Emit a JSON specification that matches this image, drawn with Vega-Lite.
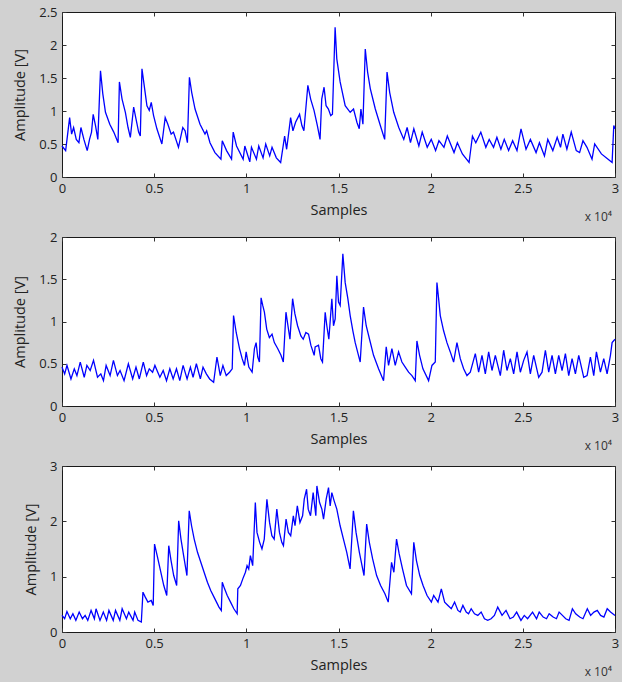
{
  "$schema": "https://vega.github.io/schema/vega-lite/v6.json",
  "background": "#d1d1d1",
  "padding": {"left": 12, "top": 5, "right": 2, "bottom": 6},
  "spacing": 60,
  "bounds": "flush",
  "config": {
    "view": {"fill": "white", "stroke": "#1a1a1a", "strokeWidth": 1},
    "axis": {"domain": false, "grid": false, "tickSize": -4, "tickColor": "#333333", "labelPadding": 9, "labelFont": "Open Sans", "labelFontSize": 13, "labelColor": "#222222", "titleFont": "Open Sans", "titleFontSize": 14.5, "titleFontWeight": "normal", "titleColor": "#222222", "labelFlush": false, "labelOverlap": false},
    "axisX": {"titlePadding": 8},
    "axisY": {"titlePadding": 11},
    "title": {"font": "Open Sans", "fontSize": 12, "fontWeight": "normal", "color": "#333333"}
  },
  "datasets": {
    "p1": [
      {"sample":0,"amplitude":0.47},{"sample":198,"amplitude":0.40},{"sample":414,"amplitude":0.90},{"sample":522,"amplitude":0.65},{"sample":630,"amplitude":0.75},{"sample":774,"amplitude":0.57},{"sample":918,"amplitude":0.52},{"sample":1026,"amplitude":0.75},{"sample":1188,"amplitude":0.57},{"sample":1368,"amplitude":0.40},{"sample":1494,"amplitude":0.57},{"sample":1602,"amplitude":0.68},{"sample":1692,"amplitude":0.95},{"sample":1818,"amplitude":0.78},{"sample":1944,"amplitude":0.57},{"sample":2088,"amplitude":1.61},{"sample":2214,"amplitude":1.26},{"sample":2358,"amplitude":0.98},{"sample":2592,"amplitude":0.80},{"sample":2808,"amplitude":0.68},{"sample":3042,"amplitude":0.52},{"sample":3114,"amplitude":1.44},{"sample":3258,"amplitude":1.18},{"sample":3438,"amplitude":0.98},{"sample":3582,"amplitude":0.75},{"sample":3708,"amplitude":0.60},{"sample":3888,"amplitude":1.06},{"sample":4014,"amplitude":0.88},{"sample":4158,"amplitude":0.68},{"sample":4248,"amplitude":0.62},{"sample":4338,"amplitude":1.64},{"sample":4482,"amplitude":1.34},{"sample":4608,"amplitude":1.08},{"sample":4734,"amplitude":1.01},{"sample":4842,"amplitude":1.13},{"sample":4968,"amplitude":0.93},{"sample":5148,"amplitude":0.73},{"sample":5418,"amplitude":0.50},{"sample":5598,"amplitude":0.90},{"sample":5742,"amplitude":0.80},{"sample":5922,"amplitude":0.65},{"sample":6048,"amplitude":0.68},{"sample":6318,"amplitude":0.45},{"sample":6552,"amplitude":0.75},{"sample":6678,"amplitude":0.70},{"sample":6804,"amplitude":0.52},{"sample":6912,"amplitude":1.51},{"sample":7038,"amplitude":1.28},{"sample":7218,"amplitude":1.03},{"sample":7488,"amplitude":0.80},{"sample":7758,"amplitude":0.65},{"sample":7848,"amplitude":0.70},{"sample":8028,"amplitude":0.52},{"sample":8298,"amplitude":0.37},{"sample":8622,"amplitude":0.27},{"sample":8694,"amplitude":0.55},{"sample":8928,"amplitude":0.40},{"sample":9198,"amplitude":0.27},{"sample":9288,"amplitude":0.68},{"sample":9468,"amplitude":0.47},{"sample":9828,"amplitude":0.27},{"sample":9918,"amplitude":0.47},{"sample":10188,"amplitude":0.23},{"sample":10278,"amplitude":0.45},{"sample":10548,"amplitude":0.27},{"sample":10674,"amplitude":0.47},{"sample":10908,"amplitude":0.29},{"sample":11052,"amplitude":0.50},{"sample":11268,"amplitude":0.32},{"sample":11394,"amplitude":0.45},{"sample":11628,"amplitude":0.29},{"sample":11862,"amplitude":0.22},{"sample":12078,"amplitude":0.62},{"sample":12186,"amplitude":0.42},{"sample":12402,"amplitude":0.90},{"sample":12528,"amplitude":0.70},{"sample":12672,"amplitude":0.83},{"sample":12798,"amplitude":0.90},{"sample":12888,"amplitude":0.95},{"sample":13014,"amplitude":0.78},{"sample":13122,"amplitude":0.70},{"sample":13338,"amplitude":1.39},{"sample":13490,"amplitude":1.18},{"sample":13672,"amplitude":1.01},{"sample":13853,"amplitude":0.78},{"sample":13999,"amplitude":0.57},{"sample":14090,"amplitude":1.18},{"sample":14217,"amplitude":1.36},{"sample":14326,"amplitude":1.08},{"sample":14453,"amplitude":1.03},{"sample":14580,"amplitude":0.93},{"sample":14671,"amplitude":0.95},{"sample":14816,"amplitude":2.27},{"sample":14907,"amplitude":1.79},{"sample":15089,"amplitude":1.44},{"sample":15362,"amplitude":1.08},{"sample":15634,"amplitude":0.98},{"sample":15816,"amplitude":1.03},{"sample":15998,"amplitude":0.83},{"sample":16125,"amplitude":0.73},{"sample":16216,"amplitude":1.03},{"sample":16325,"amplitude":0.80},{"sample":16452,"amplitude":1.94},{"sample":16579,"amplitude":1.59},{"sample":16724,"amplitude":1.34},{"sample":16997,"amplitude":1.03},{"sample":17269,"amplitude":0.78},{"sample":17505,"amplitude":0.57},{"sample":17633,"amplitude":1.59},{"sample":17778,"amplitude":1.28},{"sample":17996,"amplitude":0.98},{"sample":18269,"amplitude":0.75},{"sample":18541,"amplitude":0.57},{"sample":18723,"amplitude":0.75},{"sample":18905,"amplitude":0.52},{"sample":19086,"amplitude":0.73},{"sample":19359,"amplitude":0.47},{"sample":19541,"amplitude":0.68},{"sample":19813,"amplitude":0.45},{"sample":20031,"amplitude":0.57},{"sample":20267,"amplitude":0.40},{"sample":20449,"amplitude":0.55},{"sample":20721,"amplitude":0.45},{"sample":20903,"amplitude":0.62},{"sample":21267,"amplitude":0.37},{"sample":21449,"amplitude":0.52},{"sample":21721,"amplitude":0.35},{"sample":22084,"amplitude":0.22},{"sample":22266,"amplitude":0.62},{"sample":22448,"amplitude":0.52},{"sample":22720,"amplitude":0.68},{"sample":22993,"amplitude":0.45},{"sample":23175,"amplitude":0.57},{"sample":23411,"amplitude":0.45},{"sample":23593,"amplitude":0.60},{"sample":23811,"amplitude":0.42},{"sample":23992,"amplitude":0.57},{"sample":24228,"amplitude":0.40},{"sample":24447,"amplitude":0.55},{"sample":24683,"amplitude":0.40},{"sample":24901,"amplitude":0.73},{"sample":25173,"amplitude":0.42},{"sample":25410,"amplitude":0.57},{"sample":25718,"amplitude":0.37},{"sample":25900,"amplitude":0.52},{"sample":26173,"amplitude":0.32},{"sample":26354,"amplitude":0.57},{"sample":26627,"amplitude":0.40},{"sample":26863,"amplitude":0.60},{"sample":27045,"amplitude":0.45},{"sample":27172,"amplitude":0.65},{"sample":27390,"amplitude":0.42},{"sample":27626,"amplitude":0.68},{"sample":27899,"amplitude":0.40},{"sample":28080,"amplitude":0.37},{"sample":28262,"amplitude":0.55},{"sample":28480,"amplitude":0.45},{"sample":28753,"amplitude":0.27},{"sample":28898,"amplitude":0.50},{"sample":29262,"amplitude":0.35},{"sample":29625,"amplitude":0.27},{"sample":29843,"amplitude":0.22},{"sample":29934,"amplitude":0.78},{"sample":30000,"amplitude":0.73}
    ],
    "p2": [
      {"sample":0,"amplitude":0.46},{"sample":144,"amplitude":0.38},{"sample":270,"amplitude":0.48},{"sample":486,"amplitude":0.32},{"sample":666,"amplitude":0.44},{"sample":810,"amplitude":0.36},{"sample":990,"amplitude":0.52},{"sample":1206,"amplitude":0.34},{"sample":1350,"amplitude":0.48},{"sample":1530,"amplitude":0.42},{"sample":1710,"amplitude":0.54},{"sample":1926,"amplitude":0.34},{"sample":2106,"amplitude":0.38},{"sample":2250,"amplitude":0.30},{"sample":2394,"amplitude":0.48},{"sample":2610,"amplitude":0.36},{"sample":2790,"amplitude":0.54},{"sample":3006,"amplitude":0.36},{"sample":3150,"amplitude":0.42},{"sample":3366,"amplitude":0.30},{"sample":3600,"amplitude":0.50},{"sample":3834,"amplitude":0.32},{"sample":4014,"amplitude":0.46},{"sample":4194,"amplitude":0.32},{"sample":4410,"amplitude":0.52},{"sample":4590,"amplitude":0.36},{"sample":4734,"amplitude":0.44},{"sample":4914,"amplitude":0.40},{"sample":5040,"amplitude":0.48},{"sample":5310,"amplitude":0.34},{"sample":5490,"amplitude":0.42},{"sample":5670,"amplitude":0.30},{"sample":5850,"amplitude":0.44},{"sample":6030,"amplitude":0.32},{"sample":6210,"amplitude":0.44},{"sample":6390,"amplitude":0.30},{"sample":6570,"amplitude":0.48},{"sample":6786,"amplitude":0.32},{"sample":6966,"amplitude":0.46},{"sample":7110,"amplitude":0.34},{"sample":7290,"amplitude":0.50},{"sample":7506,"amplitude":0.32},{"sample":7650,"amplitude":0.46},{"sample":7830,"amplitude":0.38},{"sample":8010,"amplitude":0.32},{"sample":8226,"amplitude":0.28},{"sample":8406,"amplitude":0.58},{"sample":8586,"amplitude":0.36},{"sample":8730,"amplitude":0.48},{"sample":8910,"amplitude":0.36},{"sample":9090,"amplitude":0.40},{"sample":9234,"amplitude":0.44},{"sample":9306,"amplitude":1.07},{"sample":9450,"amplitude":0.87},{"sample":9630,"amplitude":0.68},{"sample":9774,"amplitude":0.56},{"sample":9900,"amplitude":0.48},{"sample":9990,"amplitude":0.64},{"sample":10134,"amplitude":0.46},{"sample":10314,"amplitude":0.40},{"sample":10440,"amplitude":0.68},{"sample":10530,"amplitude":0.75},{"sample":10620,"amplitude":0.58},{"sample":10710,"amplitude":0.52},{"sample":10800,"amplitude":1.28},{"sample":10890,"amplitude":1.19},{"sample":10980,"amplitude":1.11},{"sample":11106,"amplitude":0.91},{"sample":11250,"amplitude":0.81},{"sample":11394,"amplitude":0.85},{"sample":11520,"amplitude":0.75},{"sample":11700,"amplitude":0.68},{"sample":11880,"amplitude":0.60},{"sample":12006,"amplitude":0.52},{"sample":12150,"amplitude":1.11},{"sample":12258,"amplitude":0.95},{"sample":12366,"amplitude":0.79},{"sample":12510,"amplitude":1.27},{"sample":12636,"amplitude":1.09},{"sample":12780,"amplitude":0.95},{"sample":12960,"amplitude":0.83},{"sample":13086,"amplitude":0.79},{"sample":13230,"amplitude":0.87},{"sample":13374,"amplitude":0.85},{"sample":13500,"amplitude":0.72},{"sample":13680,"amplitude":0.60},{"sample":13734,"amplitude":0.70},{"sample":13915,"amplitude":0.72},{"sample":14041,"amplitude":0.56},{"sample":14132,"amplitude":0.52},{"sample":14277,"amplitude":1.11},{"sample":14367,"amplitude":0.95},{"sample":14476,"amplitude":0.79},{"sample":14639,"amplitude":1.27},{"sample":14729,"amplitude":0.95},{"sample":14820,"amplitude":1.03},{"sample":14910,"amplitude":1.54},{"sample":15001,"amplitude":1.23},{"sample":15091,"amplitude":1.19},{"sample":15236,"amplitude":1.80},{"sample":15363,"amplitude":1.46},{"sample":15507,"amplitude":1.27},{"sample":15634,"amplitude":1.07},{"sample":15779,"amplitude":0.89},{"sample":15906,"amplitude":0.75},{"sample":16177,"amplitude":0.52},{"sample":16358,"amplitude":1.17},{"sample":16503,"amplitude":0.95},{"sample":16684,"amplitude":0.79},{"sample":16901,"amplitude":0.60},{"sample":17173,"amplitude":0.44},{"sample":17444,"amplitude":0.30},{"sample":17589,"amplitude":0.70},{"sample":17716,"amplitude":0.48},{"sample":17897,"amplitude":0.68},{"sample":18078,"amplitude":0.48},{"sample":18259,"amplitude":0.64},{"sample":18440,"amplitude":0.52},{"sample":18621,"amplitude":0.46},{"sample":18802,"amplitude":0.40},{"sample":18983,"amplitude":0.36},{"sample":19164,"amplitude":0.30},{"sample":19254,"amplitude":0.77},{"sample":19399,"amplitude":0.60},{"sample":19580,"amplitude":0.44},{"sample":19888,"amplitude":0.30},{"sample":20069,"amplitude":0.48},{"sample":20250,"amplitude":0.52},{"sample":20340,"amplitude":1.46},{"sample":20431,"amplitude":1.27},{"sample":20521,"amplitude":1.07},{"sample":20702,"amplitude":0.89},{"sample":20883,"amplitude":0.75},{"sample":21064,"amplitude":0.64},{"sample":21245,"amplitude":0.52},{"sample":21426,"amplitude":0.75},{"sample":21607,"amplitude":0.56},{"sample":21788,"amplitude":0.44},{"sample":21969,"amplitude":0.36},{"sample":22150,"amplitude":0.40},{"sample":22422,"amplitude":0.62},{"sample":22603,"amplitude":0.40},{"sample":22784,"amplitude":0.60},{"sample":22965,"amplitude":0.38},{"sample":23146,"amplitude":0.64},{"sample":23327,"amplitude":0.42},{"sample":23508,"amplitude":0.60},{"sample":23779,"amplitude":0.36},{"sample":23960,"amplitude":0.66},{"sample":24141,"amplitude":0.42},{"sample":24322,"amplitude":0.56},{"sample":24503,"amplitude":0.38},{"sample":24684,"amplitude":0.64},{"sample":24865,"amplitude":0.40},{"sample":25046,"amplitude":0.54},{"sample":25227,"amplitude":0.64},{"sample":25408,"amplitude":0.38},{"sample":25589,"amplitude":0.60},{"sample":25861,"amplitude":0.34},{"sample":26042,"amplitude":0.40},{"sample":26223,"amplitude":0.66},{"sample":26404,"amplitude":0.40},{"sample":26585,"amplitude":0.60},{"sample":26766,"amplitude":0.38},{"sample":26947,"amplitude":0.60},{"sample":27128,"amplitude":0.42},{"sample":27309,"amplitude":0.62},{"sample":27490,"amplitude":0.36},{"sample":27671,"amplitude":0.56},{"sample":27852,"amplitude":0.38},{"sample":28033,"amplitude":0.60},{"sample":28304,"amplitude":0.34},{"sample":28485,"amplitude":0.36},{"sample":28666,"amplitude":0.58},{"sample":28847,"amplitude":0.36},{"sample":28992,"amplitude":0.64},{"sample":29209,"amplitude":0.40},{"sample":29390,"amplitude":0.56},{"sample":29571,"amplitude":0.38},{"sample":29752,"amplitude":0.60},{"sample":29843,"amplitude":0.75},{"sample":30000,"amplitude":0.79}
    ],
    "p3": [
      {"sample":0,"amplitude":0.30},{"sample":143,"amplitude":0.24},{"sample":268,"amplitude":0.37},{"sample":448,"amplitude":0.24},{"sample":591,"amplitude":0.33},{"sample":752,"amplitude":0.21},{"sample":932,"amplitude":0.36},{"sample":1111,"amplitude":0.24},{"sample":1255,"amplitude":0.30},{"sample":1398,"amplitude":0.21},{"sample":1577,"amplitude":0.39},{"sample":1757,"amplitude":0.24},{"sample":1846,"amplitude":0.42},{"sample":2061,"amplitude":0.21},{"sample":2241,"amplitude":0.36},{"sample":2420,"amplitude":0.21},{"sample":2545,"amplitude":0.39},{"sample":2779,"amplitude":0.21},{"sample":2904,"amplitude":0.39},{"sample":3137,"amplitude":0.21},{"sample":3263,"amplitude":0.42},{"sample":3496,"amplitude":0.24},{"sample":3621,"amplitude":0.36},{"sample":3854,"amplitude":0.21},{"sample":3944,"amplitude":0.36},{"sample":4123,"amplitude":0.21},{"sample":4303,"amplitude":0.18},{"sample":4392,"amplitude":0.72},{"sample":4518,"amplitude":0.63},{"sample":4661,"amplitude":0.54},{"sample":4841,"amplitude":0.57},{"sample":4948,"amplitude":0.48},{"sample":5020,"amplitude":1.59},{"sample":5163,"amplitude":1.38},{"sample":5343,"amplitude":1.11},{"sample":5522,"amplitude":0.84},{"sample":5683,"amplitude":0.66},{"sample":5791,"amplitude":1.56},{"sample":5916,"amplitude":1.29},{"sample":6060,"amplitude":1.02},{"sample":6221,"amplitude":0.84},{"sample":6329,"amplitude":2.01},{"sample":6454,"amplitude":1.68},{"sample":6598,"amplitude":1.38},{"sample":6777,"amplitude":1.02},{"sample":6902,"amplitude":2.19},{"sample":7028,"amplitude":1.92},{"sample":7171,"amplitude":1.68},{"sample":7351,"amplitude":1.44},{"sample":7530,"amplitude":1.26},{"sample":7709,"amplitude":1.08},{"sample":7889,"amplitude":0.90},{"sample":8068,"amplitude":0.75},{"sample":8247,"amplitude":0.63},{"sample":8516,"amplitude":0.45},{"sample":8642,"amplitude":0.39},{"sample":8695,"amplitude":0.90},{"sample":8821,"amplitude":0.78},{"sample":8964,"amplitude":0.66},{"sample":9144,"amplitude":0.54},{"sample":9323,"amplitude":0.42},{"sample":9502,"amplitude":0.33},{"sample":9538,"amplitude":0.78},{"sample":9682,"amplitude":0.84},{"sample":9807,"amplitude":0.96},{"sample":9951,"amplitude":1.08},{"sample":10040,"amplitude":1.20},{"sample":10130,"amplitude":1.14},{"sample":10220,"amplitude":1.38},{"sample":10345,"amplitude":1.20},{"sample":10488,"amplitude":2.34},{"sample":10578,"amplitude":1.80},{"sample":10722,"amplitude":1.62},{"sample":10847,"amplitude":1.50},{"sample":10973,"amplitude":1.68},{"sample":11116,"amplitude":2.40},{"sample":11259,"amplitude":1.98},{"sample":11385,"amplitude":1.74},{"sample":11510,"amplitude":1.68},{"sample":11654,"amplitude":2.22},{"sample":11797,"amplitude":1.80},{"sample":11923,"amplitude":1.62},{"sample":12013,"amplitude":1.56},{"sample":12156,"amplitude":2.04},{"sample":12281,"amplitude":1.80},{"sample":12407,"amplitude":1.74},{"sample":12550,"amplitude":2.10},{"sample":12640,"amplitude":1.92},{"sample":12766,"amplitude":2.28},{"sample":12909,"amplitude":1.98},{"sample":13052,"amplitude":2.10},{"sample":13142,"amplitude":2.40},{"sample":13268,"amplitude":2.58},{"sample":13357,"amplitude":2.22},{"sample":13483,"amplitude":2.10},{"sample":13626,"amplitude":2.52},{"sample":13770,"amplitude":2.10},{"sample":13828,"amplitude":2.64},{"sample":13972,"amplitude":2.34},{"sample":14098,"amplitude":2.22},{"sample":14188,"amplitude":2.04},{"sample":14332,"amplitude":2.40},{"sample":14458,"amplitude":2.61},{"sample":14548,"amplitude":2.28},{"sample":14638,"amplitude":2.52},{"sample":14764,"amplitude":2.37},{"sample":14908,"amplitude":2.22},{"sample":15088,"amplitude":1.92},{"sample":15268,"amplitude":1.68},{"sample":15448,"amplitude":1.44},{"sample":15628,"amplitude":1.14},{"sample":15808,"amplitude":2.19},{"sample":15952,"amplitude":1.80},{"sample":16132,"amplitude":1.44},{"sample":16384,"amplitude":1.02},{"sample":16528,"amplitude":1.95},{"sample":16672,"amplitude":1.62},{"sample":16852,"amplitude":1.32},{"sample":17068,"amplitude":1.02},{"sample":17284,"amplitude":0.84},{"sample":17518,"amplitude":0.69},{"sample":17698,"amplitude":0.54},{"sample":17878,"amplitude":1.26},{"sample":18004,"amplitude":1.08},{"sample":18148,"amplitude":1.68},{"sample":18292,"amplitude":1.41},{"sample":18472,"amplitude":1.14},{"sample":18688,"amplitude":0.84},{"sample":18958,"amplitude":0.69},{"sample":19084,"amplitude":1.62},{"sample":19228,"amplitude":1.29},{"sample":19408,"amplitude":1.02},{"sample":19588,"amplitude":0.84},{"sample":19804,"amplitude":0.66},{"sample":20038,"amplitude":0.54},{"sample":20164,"amplitude":0.66},{"sample":20398,"amplitude":0.54},{"sample":20578,"amplitude":0.78},{"sample":20758,"amplitude":0.54},{"sample":20938,"amplitude":0.48},{"sample":21118,"amplitude":0.42},{"sample":21298,"amplitude":0.54},{"sample":21478,"amplitude":0.39},{"sample":21604,"amplitude":0.36},{"sample":21748,"amplitude":0.48},{"sample":21928,"amplitude":0.36},{"sample":22054,"amplitude":0.33},{"sample":22198,"amplitude":0.42},{"sample":22378,"amplitude":0.33},{"sample":22558,"amplitude":0.30},{"sample":22738,"amplitude":0.36},{"sample":22918,"amplitude":0.24},{"sample":23098,"amplitude":0.21},{"sample":23278,"amplitude":0.24},{"sample":23458,"amplitude":0.30},{"sample":23638,"amplitude":0.45},{"sample":23872,"amplitude":0.30},{"sample":24088,"amplitude":0.39},{"sample":24304,"amplitude":0.24},{"sample":24484,"amplitude":0.27},{"sample":24664,"amplitude":0.36},{"sample":24898,"amplitude":0.21},{"sample":25078,"amplitude":0.30},{"sample":25258,"amplitude":0.24},{"sample":25528,"amplitude":0.36},{"sample":25744,"amplitude":0.24},{"sample":25888,"amplitude":0.36},{"sample":26104,"amplitude":0.27},{"sample":26284,"amplitude":0.24},{"sample":26428,"amplitude":0.33},{"sample":26644,"amplitude":0.27},{"sample":26824,"amplitude":0.24},{"sample":26968,"amplitude":0.36},{"sample":27148,"amplitude":0.30},{"sample":27328,"amplitude":0.24},{"sample":27508,"amplitude":0.21},{"sample":27688,"amplitude":0.42},{"sample":27868,"amplitude":0.33},{"sample":28084,"amplitude":0.27},{"sample":28264,"amplitude":0.24},{"sample":28498,"amplitude":0.42},{"sample":28678,"amplitude":0.30},{"sample":28858,"amplitude":0.36},{"sample":29038,"amplitude":0.39},{"sample":29218,"amplitude":0.30},{"sample":29398,"amplitude":0.27},{"sample":29578,"amplitude":0.42},{"sample":29758,"amplitude":0.36},{"sample":30000,"amplitude":0.30}
    ]
  },
  "vconcat": [
    {
      "width": 553, "height": 165,
      "data": {"name": "p1"},
      "title": {"text": "x 10⁴", "orient": "bottom", "anchor": "end", "frame": "group", "offset": -5, "dx": -3},
      "layer": [
        {"mark": {"type": "line", "color": "#0000ff", "strokeWidth": 1.3},
         "encoding": {
           "x": {"field": "sample", "type": "quantitative", "scale": {"domain": [0, 30000], "nice": false}, "axis": {"title": "Samples", "values": [0,5000,10000,15000,20000,25000,30000], "labelExpr": "datum.value/10000 + ''"}},
           "y": {"field": "amplitude", "type": "quantitative", "scale": {"domain": [0, 2.5], "nice": false}, "axis": {"title": "Amplitude [V]", "values": [0,0.5,1,1.5,2,2.5], "labelExpr": "datum.value + ''"}}
         }},
        {"mark": {"type": "line", "strokeOpacity": 0},
         "encoding": {
           "x": {"field": "sample", "type": "quantitative", "axis": {"orient": "top", "title": null, "labels": false, "values": [0,5000,10000,15000,20000,25000,30000]}},
           "y": {"field": "amplitude", "type": "quantitative", "axis": {"orient": "right", "title": null, "labels": false, "values": [0,0.5,1,1.5,2,2.5]}}
         }}
      ],
      "resolve": {"axis": {"x": "independent", "y": "independent"}}
    },
    {
      "width": 553, "height": 169,
      "data": {"name": "p2"},
      "title": {"text": "x 10⁴", "orient": "bottom", "anchor": "end", "frame": "group", "offset": -5, "dx": -3},
      "layer": [
        {"mark": {"type": "line", "color": "#0000ff", "strokeWidth": 1.3},
         "encoding": {
           "x": {"field": "sample", "type": "quantitative", "scale": {"domain": [0, 30000], "nice": false}, "axis": {"title": "Samples", "values": [0,5000,10000,15000,20000,25000,30000], "labelExpr": "datum.value/10000 + ''"}},
           "y": {"field": "amplitude", "type": "quantitative", "scale": {"domain": [0, 2], "nice": false}, "axis": {"title": "Amplitude [V]", "values": [0,0.5,1,1.5,2], "labelExpr": "datum.value + ''"}}
         }},
        {"mark": {"type": "line", "strokeOpacity": 0},
         "encoding": {
           "x": {"field": "sample", "type": "quantitative", "axis": {"orient": "top", "title": null, "labels": false, "values": [0,5000,10000,15000,20000,25000,30000]}},
           "y": {"field": "amplitude", "type": "quantitative", "axis": {"orient": "right", "title": null, "labels": false, "values": [0,0.5,1,1.5,2]}}
         }}
      ],
      "resolve": {"axis": {"x": "independent", "y": "independent"}}
    },
    {
      "width": 553, "height": 166,
      "data": {"name": "p3"},
      "title": {"text": "x 10⁴", "orient": "bottom", "anchor": "end", "frame": "group", "offset": -5, "dx": -3},
      "layer": [
        {"mark": {"type": "line", "color": "#0000ff", "strokeWidth": 1.3},
         "encoding": {
           "x": {"field": "sample", "type": "quantitative", "scale": {"domain": [0, 30000], "nice": false}, "axis": {"title": "Samples", "values": [0,5000,10000,15000,20000,25000,30000], "labelExpr": "datum.value/10000 + ''"}},
           "y": {"field": "amplitude", "type": "quantitative", "scale": {"domain": [0, 3], "nice": false}, "axis": {"title": "Amplitude [V]", "values": [0,1,2,3], "labelExpr": "datum.value + ''"}}
         }},
        {"mark": {"type": "line", "strokeOpacity": 0},
         "encoding": {
           "x": {"field": "sample", "type": "quantitative", "axis": {"orient": "top", "title": null, "labels": false, "values": [0,5000,10000,15000,20000,25000,30000]}},
           "y": {"field": "amplitude", "type": "quantitative", "axis": {"orient": "right", "title": null, "labels": false, "values": [0,1,2,3]}}
         }}
      ],
      "resolve": {"axis": {"x": "independent", "y": "independent"}}
    }
  ]
}
